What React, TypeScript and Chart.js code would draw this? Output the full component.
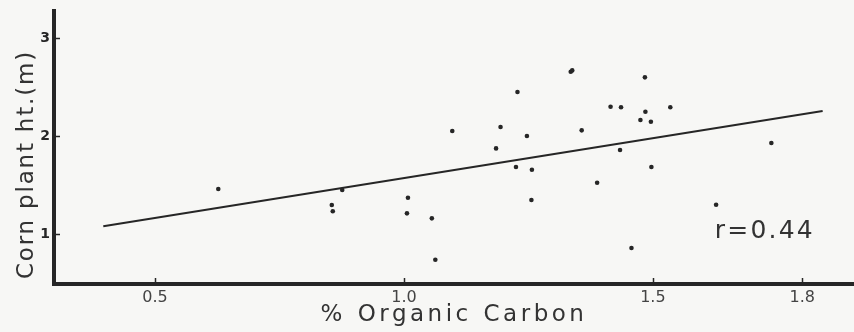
import React, { useEffect, useRef } from "react";
import { Chart, registerables } from "chart.js";

Chart.register(...registerables);

// % organic carbon (x) and corn plant height in m (y)
const carbon = [0.627, 0.855, 0.857, 0.876, 1.006, 1.008, 1.056, 1.063, 1.097, 1.185, 1.194, 1.225, 1.228, 1.247, 1.256, 1.257, 1.335, 1.338, 1.357, 1.388, 1.415, 1.434, 1.436, 1.457, 1.475, 1.484, 1.485, 1.496, 1.497, 1.535, 1.627, 1.738];
const plantHeight = [1.459, 1.296, 1.232, 1.449, 1.211, 1.370, 1.160, 0.738, 2.051, 1.874, 2.092, 1.684, 2.449, 2.000, 1.347, 1.656, 2.656, 2.670, 2.058, 1.523, 2.299, 1.857, 2.293, 0.857, 2.163, 2.599, 2.248, 2.146, 1.684, 2.293, 1.299, 1.929];

// regression line end points
const fitX = [0.396, 1.841];
const fitY = [1.08, 2.255];

const xTicks = [0.5, 1.0, 1.5, 1.8];
const xTickLabels = ["0.5", "1.0", "1.5", "1.8"];
const yTicks = [1, 2, 3];
const yTickLabels = ["1", "2", "3"];

const xTitle = "% Organic Carbon";
const yTitle = "Corn plant ht.(m)";
const rLabel = "r=0.44";
const rLabelAt = { x: 1.6245, y: 0.96 };

const INK = "#262626";
const TEXT = "#333333";
const FONT = "'DejaVu Sans', sans-serif";

export default function App() {
  const ref = useRef<HTMLCanvasElement>(null);

  useEffect(() => {
    document.body.style.margin = "0";
    document.body.style.background = "#f7f7f5";
    if (!ref.current) return;

    const overlay = {
      id: "overlay",
      afterDraw(chart: any) {
        const { ctx, chartArea, scales } = chart;
        const xs = scales.x;
        const ys = scales.y;
        ctx.save();
        ctx.strokeStyle = INK;
        ctx.lineWidth = 1.5;
        xTicks.forEach((v) => {
          const px = Math.round(xs.getPixelForValue(v)) + 0.5;
          ctx.beginPath();
          ctx.moveTo(px, chartArea.bottom);
          ctx.lineTo(px, chartArea.bottom - 6);
          ctx.stroke();
        });
        yTicks.forEach((v) => {
          const py = Math.round(ys.getPixelForValue(v)) + 0.5;
          ctx.beginPath();
          ctx.moveTo(chartArea.left, py);
          ctx.lineTo(chartArea.left + 6, py);
          ctx.stroke();
        });
        ctx.fillStyle = TEXT;
        ctx.textBaseline = "alphabetic";

        // r label
        ctx.font = `25px ${FONT}`;
        ctx.letterSpacing = "2.2px";
        ctx.textAlign = "left";
        ctx.fillText(rLabel, xs.getPixelForValue(rLabelAt.x), ys.getPixelForValue(rLabelAt.y));

        // x title
        ctx.font = `23px ${FONT}`;
        ctx.letterSpacing = "3.5px";
        (ctx as any).wordSpacing = "1px";
        ctx.textAlign = "center";
        ctx.fillText(xTitle, 454, 321);

        // y title
        (ctx as any).wordSpacing = "0px";
        ctx.letterSpacing = "1.8px";
        ctx.textAlign = "left";
        ctx.translate(33, 279);
        ctx.rotate(-Math.PI / 2);
        ctx.fillText(yTitle, 0, 0);
        ctx.restore();
      },
    };

    const chart = new Chart(ref.current, {
      type: "scatter",
      data: {
        datasets: [
          {
            label: "samples",
            data: carbon.map((c, i) => ({ x: c, y: plantHeight[i] })),
            pointRadius: 2.3,
            pointHoverRadius: 2.3,
            pointBackgroundColor: INK,
            pointBorderWidth: 0,
          },
          {
            label: "fit",
            data: fitX.map((c, i) => ({ x: c, y: fitY[i] })),
            showLine: true,
            pointRadius: 0,
            pointHoverRadius: 0,
            borderColor: INK,
            borderWidth: 2,
          },
        ],
      },
      options: {
        responsive: false,
        animation: false,
        layout: { autoPadding: false, padding: { top: 11, left: 0, right: 0, bottom: 0 } },
        plugins: { legend: { display: false }, tooltip: { enabled: false } },
        scales: {
          x: {
            type: "linear",
            min: 0.297,
            max: 1.904,
            grid: { display: false, drawTicks: false },
            border: { display: true, color: INK, width: 4 },
            afterBuildTicks: (s: any) => {
              s.ticks = xTicks.map((v) => ({ value: v }));
            },
            afterFit: (s: any) => {
              s.height = 48;
              s.paddingLeft = 0;
              s.paddingRight = 0;
            },
            ticks: {
              padding: 4,
              color: "#444",
              font: { family: FONT, size: 16 },
              callback: (v: any) => xTickLabels[xTicks.indexOf(Number(v))] ?? "",
            },
          },
          y: {
            type: "linear",
            min: 0.49,
            max: 3.276,
            grid: { display: false, drawTicks: false },
            border: { display: true, color: INK, width: 4 },
            afterBuildTicks: (s: any) => {
              s.ticks = yTicks.map((v) => ({ value: v }));
            },
            afterFit: (s: any) => {
              s.width = 54;
              s.paddingTop = 0;
              s.paddingBottom = 0;
            },
            ticks: {
              padding: 4,
              color: INK,
              font: { family: FONT, size: 14, weight: "bold" },
              callback: (v: any) => yTickLabels[yTicks.indexOf(Number(v))] ?? "",
            },
          },
        },
      },
      plugins: [overlay],
    });
    return () => chart.destroy();
  }, []);

  return <canvas ref={ref} width={854} height={332} style={{ display: "block" }} />;
}
